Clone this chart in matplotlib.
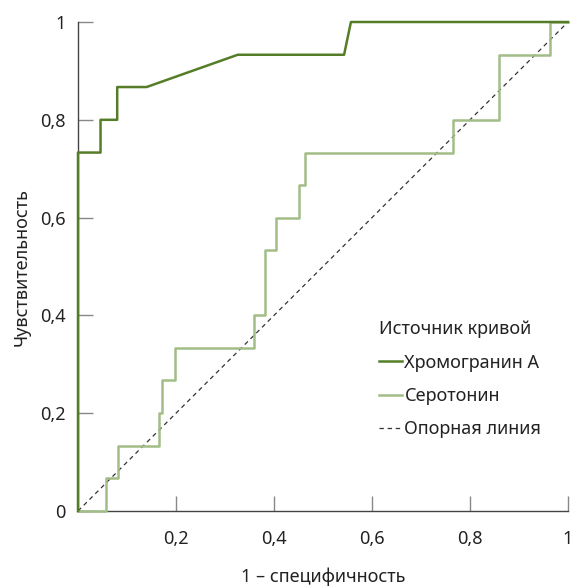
import matplotlib.pyplot as plt

# ROC curves
chromo_fpr = [0, 0, 0.046, 0.046, 0.080, 0.080, 0.140, 0.326, 0.543, 0.557, 1.0]
chromo_tpr = [0, 0.733, 0.733, 0.800, 0.800, 0.867, 0.867, 0.933, 0.933, 1.0, 1.0]

sero_fpr = [0, 0.057, 0.057, 0.082, 0.082, 0.165, 0.165, 0.172, 0.172, 0.197,
            0.197, 0.359, 0.359, 0.381, 0.381, 0.405, 0.405, 0.452, 0.452, 0.464,
            0.464, 0.766, 0.766, 0.859, 0.859, 0.963, 0.963, 1.0]
sero_tpr = [0, 0, 0.067, 0.067, 0.133, 0.133, 0.200, 0.200, 0.267, 0.267,
            0.333, 0.333, 0.400, 0.400, 0.533, 0.533, 0.600, 0.600, 0.667, 0.667,
            0.733, 0.733, 0.800, 0.800, 0.933, 0.933, 1.0, 1.0]

ref_line = [0, 1]

xticks = [0.2, 0.4, 0.6, 0.8, 1.0]
xlabels = ['0,2', '0,4', '0,6', '0,8', '1']
yticks = [0, 0.2, 0.4, 0.6, 0.8, 1.0]
ylabels = ['0', '0,2', '0,4', '0,6', '0,8', '1']

dark_green = '#557d27'
light_green = '#a2bd86'
fs = 13

plt.rcParams['font.family'] = ['Noto Sans', 'DejaVu Sans']

fig = plt.figure(figsize=(5.72, 5.88), dpi=100)
ax = fig.add_axes([78 / 572, 1 - 511 / 588, 490 / 572, 489 / 588])

ax.plot(ref_line, ref_line, color='#333333', lw=0.9, ls=(0, (3.5, 3)),
        label='Опорная линия', zorder=2, clip_on=False)
ax.plot(sero_fpr, sero_tpr, color=light_green, lw=1.8, label='Серотонин',
        zorder=3, clip_on=False)
ax.plot(chromo_fpr, chromo_tpr, color=dark_green, lw=1.8, label='Хромогранин A',
        zorder=4, clip_on=False)

ax.set_xlim(0, 1)
ax.set_ylim(0, 1)
ax.set_xticks(xticks)
ax.set_xticklabels(xlabels)
ax.set_yticks(yticks)
ax.set_yticklabels(ylabels)
ax.tick_params(direction='in', length=11, width=1, color='#888888',
               labelsize=fs, labelcolor='#222222', pad=9)
ax.tick_params(axis='x', pad=14)

for side in ['top', 'right']:
    ax.spines[side].set_visible(False)
for side in ['left', 'bottom']:
    ax.spines[side].set_color('#444444')
    ax.spines[side].set_linewidth(1)

ax.set_xlabel('1 – специфичность', fontsize=fs, color='#222222', labelpad=14)
ax.set_ylabel('Чувствительность', fontsize=fs, color='#222222', labelpad=7)

handles, labels = ax.get_legend_handles_labels()
order = [2, 1, 0]
leg = ax.legend([handles[i] for i in order], [labels[i] for i in order],
                title='Источник кривой', loc='upper left',
                bbox_to_anchor=(0.6, 0.405), frameon=False, fontsize=fs,
                title_fontsize=fs, handlelength=1.25, handletextpad=0.15,
                labelspacing=0.85, alignment='left', borderaxespad=0)
leg.get_title().set_color('#222222')
for t in leg.get_texts():
    t.set_color('#222222')

fig.savefig('out.png', dpi=100)
